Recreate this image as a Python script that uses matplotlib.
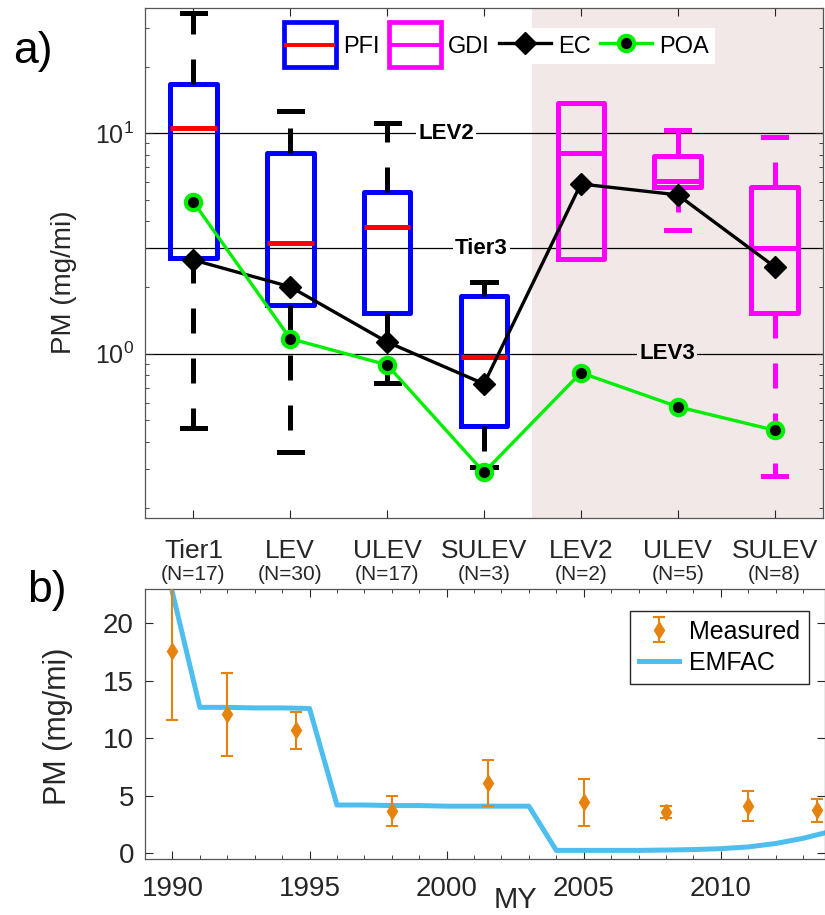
import matplotlib
matplotlib.use("Agg")
import matplotlib.pyplot as plt
import matplotlib.transforms as mtransforms
from matplotlib.lines import Line2D
from matplotlib.patches import Patch, Rectangle
from matplotlib.legend_handler import HandlerBase
from matplotlib.ticker import LogLocator, MultipleLocator, NullFormatter

plt.rcParams["font.family"] = ["Liberation Sans", "DejaVu Sans"]

# --- panel a: PM by certification class (log scale) ---
categories = ["Tier1", "LEV", "ULEV", "SULEV", "LEV2", "ULEV", "SULEV"]
counts = [17, 30, 17, 3, 2, 5, 8]

# PFI vehicles (first four classes)
pfi_lo = [0.46, 0.36, 0.74, 0.305]
pfi_q1 = [2.72, 1.67, 1.53, 0.47]
pfi_med = [10.5, 3.18, 3.76, 0.97]
pfi_q3 = [16.7, 8.1, 5.4, 1.83]
pfi_hi = [35.2, 12.6, 11.1, 2.12]

# GDI vehicles (last three classes)
gdi_lo = [2.69, 3.65, 0.278]
gdi_q1 = [2.69, 5.71, 1.53]
gdi_med = [8.1, 6.05, 3.0]
gdi_q3 = [13.7, 7.9, 5.7]
gdi_hi = [13.7, 10.35, 9.6]

ec_mean = [2.66, 2.01, 1.13, 0.73, 5.88, 5.25, 2.48]
poa_mean = [4.87, 1.17, 0.89, 0.29, 0.82, 0.575, 0.45]

ref_levels = [10, 3, 1]
ref_names = ["LEV2", "Tier3", "LEV3"]

# --- panel b: PM vs model year ---
meas_years = [1990, 1992, 1994.5, 1998, 2001.5, 2005, 2008, 2011, 2013.5]
meas_pm = [17.6, 12.1, 10.7, 3.7, 6.15, 4.45, 3.6, 4.1, 3.75]
meas_err = [6.0, 3.6, 1.6, 1.3, 2.0, 2.05, 0.5, 1.3, 1.0]

emfac_years = list(range(1990, 2015))
emfac_pm = [22.7, 12.7, 12.7, 12.65, 12.65, 12.6,
            4.2, 4.2, 4.15, 4.15, 4.1, 4.1, 4.1, 4.1,
            0.25, 0.25, 0.25, 0.25, 0.28, 0.32, 0.4, 0.55, 0.85, 1.3, 1.9]

SHADE = "#f2e8e8"
AXC = "#262626"


class BoxHandler(HandlerBase):
    """Legend key drawn as a small box with a median bar."""

    def __init__(self, edge, mid):
        super().__init__()
        self.edge = edge
        self.mid = mid

    def create_artists(self, legend, orig_handle, xdescent, ydescent,
                       width, height, fontsize, trans):
        x0, y0 = -xdescent, -ydescent
        grow = 0.55 * height
        box = Rectangle((x0, y0 - grow), width, height + 2 * grow, fill=False,
                        ec=self.edge, lw=3.4, transform=trans)
        bar = Line2D([x0 + 2, x0 + width - 2], [y0 + height / 2] * 2,
                     color=self.mid, lw=2.8, transform=trans)
        return [box, bar]


def make_stats(lo, q1, med, q3, hi):
    return [dict(whislo=a, q1=b, med=c, q3=d, whishi=e, fliers=[])
            for a, b, c, d, e in zip(lo, q1, med, q3, hi)]


fig = plt.figure(figsize=(8.25, 9.15), dpi=100)

ax = fig.add_axes([145 / 825, 1 - 518 / 915, 678 / 825, 509.7 / 915])
ax.set_yscale("log")
ax.set_xlim(0.5, 7.5)
ax.set_ylim(0.18, 36.8)
ax.axvspan(4.5, 7.5, color=SHADE, lw=0, zorder=0)
for lvl in ref_levels:
    ax.axhline(lvl, color="k", lw=0.9, zorder=1)

positions = list(range(1, len(categories) + 1))
dash = (0, (5, 5))
ax.bxp(make_stats(pfi_lo, pfi_q1, pfi_med, pfi_q3, pfi_hi), positions=positions[:4],
       widths=0.48, capwidths=0.24, showfliers=False, manage_ticks=False,
       boxprops=dict(color="blue", lw=3.6),
       whiskerprops=dict(color="k", lw=3.6, ls=dash),
       capprops=dict(color="k", lw=3.6),
       medianprops=dict(color="red", lw=3.6))
ax.bxp(make_stats(gdi_lo, gdi_q1, gdi_med, gdi_q3, gdi_hi), positions=positions[4:],
       widths=0.48, capwidths=0.24, showfliers=False, manage_ticks=False,
       boxprops=dict(color="magenta", lw=3.6),
       whiskerprops=dict(color="magenta", lw=3.6, ls=dash),
       capprops=dict(color="magenta", lw=3.6),
       medianprops=dict(color="magenta", lw=3.6))

ec_line, = ax.plot(positions, ec_mean, color="k", lw=2.4, marker="D", ms=11,
                   zorder=5)
poa_line, = ax.plot(positions, poa_mean, color="#00ee00", lw=2.4, marker="o",
                    ms=11, mfc="k", mec="#00ee00", mew=3, zorder=6)

for lvl, name, xpos, bg in zip(ref_levels, ref_names, [3.61, 3.975, 5.89],
                               ["white", "white", SHADE]):
    ax.text(xpos, lvl, name, ha="center", va="center", fontsize=16,
            fontweight="bold", zorder=4,
            bbox=dict(boxstyle="square,pad=0.1", fc=bg, ec="none"))

blend = mtransforms.blended_transform_factory(ax.transData, ax.transAxes)
for x, name, n in zip(positions, categories, counts):
    ax.text(x, -0.0786, name, transform=blend, ha="center", va="baseline",
            fontsize=19, color=AXC, clip_on=False)
    ax.text(x, -0.1218, f"(N={n})", transform=blend, ha="center",
            va="baseline", fontsize=15, color=AXC, clip_on=False)

ax.set_xticks(positions)
ax.set_xticklabels([])
ax.yaxis.set_major_locator(LogLocator(base=10, numticks=10))
ax.yaxis.set_minor_locator(LogLocator(base=10, subs=range(2, 10), numticks=20))
ax.yaxis.set_minor_formatter(NullFormatter())
ax.tick_params(which="both", direction="in", top=True, right=True,
               colors=AXC, labelsize=18, pad=8)
ax.tick_params(which="major", length=6)
ax.tick_params(which="minor", length=3)
for sp in ax.spines.values():
    sp.set_color("#555555")
    sp.set_linewidth(0.9)

pfi_key = Patch()
gdi_key = Patch()
ax.legend([pfi_key, gdi_key, ec_line, poa_line], ["PFI", "GDI", "EC", "POA"],
          handler_map={pfi_key: BoxHandler("blue", "red"),
                       gdi_key: BoxHandler("magenta", "magenta")},
          ncol=4, loc="upper center", bbox_to_anchor=(0.518, 0.961),
          frameon=True, fancybox=False, edgecolor="none", facecolor="white",
          framealpha=1, fontsize=17, handlelength=2.2, handleheight=1.0,
          handletextpad=0.3, columnspacing=0.4, borderpad=0.25,
          borderaxespad=0)

fig.text(64 / 825, 1 - 282 / 915, "PM (mg/mi)", rotation=90, ha="center",
         va="center", fontsize=20, color=AXC)
fig.text(13 / 825, 1 - 63 / 915, "a)", fontsize=32, ha="left", va="baseline")

# --- bottom panel ---
bx = fig.add_axes([145 / 825, 1 - 859 / 915, 680 / 825, 270 / 915])
emfac_line, = bx.plot(emfac_years, emfac_pm, color="#4dbeee", lw=3.6, zorder=2)
meas = bx.errorbar(meas_years, meas_pm, yerr=meas_err, fmt="d",
                   color="#e6830f", ms=8, lw=1.5, capsize=4.5, capthick=1.5,
                   zorder=3)
bx.set_xlim(1989, 2013.8)
bx.set_ylim(-0.5, 23)
bx.xaxis.set_major_locator(MultipleLocator(5))
bx.xaxis.set_minor_locator(MultipleLocator(1))
bx.set_yticks([0, 5, 10, 15, 20])
bx.tick_params(which="both", direction="in", top=True, right=True,
               colors=AXC, labelsize=20)
bx.tick_params(axis="x", pad=12)
bx.tick_params(axis="y", pad=8)
bx.tick_params(which="major", length=6)
bx.tick_params(which="minor", length=3)
for sp in bx.spines.values():
    sp.set_color("#555555")
    sp.set_linewidth(0.9)

bx.legend([meas, emfac_line], ["Measured", "EMFAC"], loc="upper right",
          bbox_to_anchor=(0.976, 0.919), fancybox=False, edgecolor=AXC,
          framealpha=1, fontsize=18, handlelength=1.6, handletextpad=0.4,
          borderpad=0.35, labelspacing=0.3, borderaxespad=0)

fig.text(58 / 825, 1 - 726 / 915, "PM (mg/mi)", rotation=90, ha="center",
         va="center", fontsize=22, color=AXC)
fig.text(516 / 825, 1 - 908 / 915, "MY", ha="center", va="baseline",
         fontsize=21, color=AXC)
fig.text(27 / 825, 1 - 602 / 915, "b)", fontsize=32, ha="left", va="baseline")

fig.savefig("out.png", dpi=100)
